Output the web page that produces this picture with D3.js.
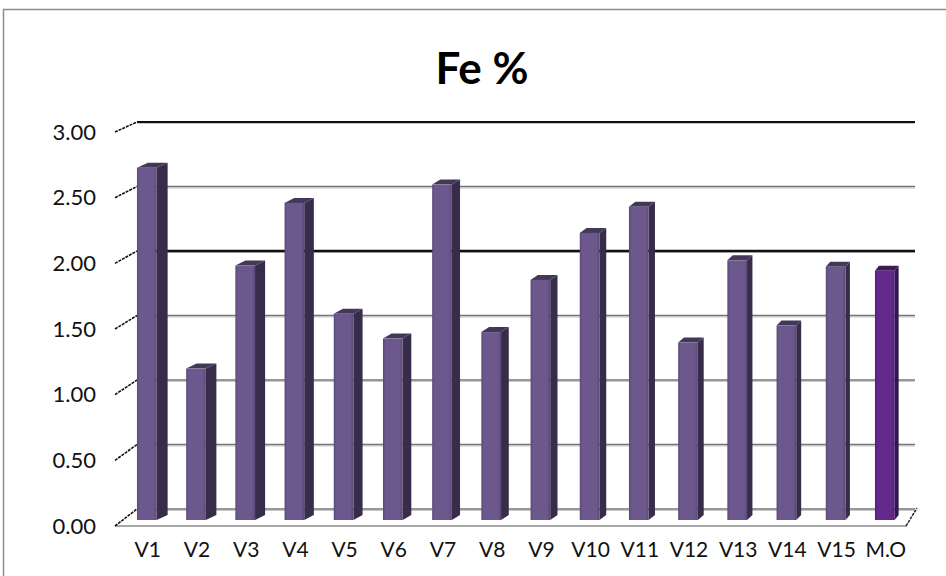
<!DOCTYPE html>
<html>
<head>
<meta charset="utf-8">
<script src="https://cdn.jsdelivr.net/npm/d3@7/dist/d3.min.js"></script>
<style>
  html, body { margin: 0; padding: 0; background: #fff; }
  svg { display: block; font-family: Lato, "Open Sans", sans-serif; }
</style>
</head>
<body>
<svg id="chart" width="946" height="576"></svg>
<script>
// Iron content per sample
const categories = ["V1","V2","V3","V4","V5","V6","V7","V8","V9","V10","V11","V12","V13","V14","V15","M.O"];
const feValues   = [2.70, 1.16, 1.95, 2.43, 1.58, 1.39, 2.57, 1.44, 1.84, 2.20, 2.40, 1.36, 1.99, 1.49, 1.94, 1.91];
const tickValues = [0, 0.5, 1, 1.5, 2, 2.5, 3];
const tickLabels = ["0.00","0.50","1.00","1.50","2.00","2.50","3.00"];
const titleText  = "Fe %";

const svg = d3.select("#chart");

// Outer chart frame
svg.append("rect")
  .attr("x", 3.5).attr("y", 9.5)
  .attr("width", 960).attr("height", 600)
  .attr("fill", "#fff").attr("stroke", "#8c8c8c").attr("stroke-width", 1.5);

// Three vertical scales: back wall, bar front plane, floor front edge
const yBack = d3.scaleLinear().domain([0, 3]).range([509, 122]);
const yBar  = d3.scaleLinear().domain([0, 3]).range([520, 128.5]);
const yEdge = d3.scaleLinear().domain([0, 3]).range([526, 132]);

const x = d3.scaleBand()
  .domain(categories)
  .range([122.2, 909.4])
  .paddingInner(0.6)
  .paddingOuter(0.3);

const wallLeft = 137, wallRight = 915;
const floorLeft = 115, floorRight = 906;

// Depth of each bar shrinks toward the right (perspective)
const depthX = d3.scaleLinear().domain([x(categories[0]), x(categories[categories.length - 1])]).range([11, 4]);
const depthY = 5;

// Back wall gridlines
const g = svg.append("g");
tickValues.forEach(v => {
  const strong = (v === 3 || v === 2);
  // soft shadow under each line
  g.append("line")
    .attr("x1", wallLeft).attr("x2", wallRight)
    .attr("y1", yBack(v) + 1.5).attr("y2", yBack(v) + 1.5)
    .attr("stroke", "#c8c8c8").attr("stroke-width", 1.2);
  g.append("line")
    .attr("x1", wallLeft).attr("x2", wallRight)
    .attr("y1", yBack(v)).attr("y2", yBack(v))
    .attr("stroke", strong ? "#111" : "#747474")
    .attr("stroke-width", v === 2 ? 2.6 : (v === 3 ? 1.8 : 1.4));
});

// Floor outline
g.append("path")
  .attr("d", `M${floorLeft},${yEdge(0)} L${floorRight},${yEdge(0)}`)
  .attr("stroke", "#8a8a8a").attr("stroke-width", 1.6).attr("fill", "none");
g.append("line")
  .attr("x1", floorRight).attr("y1", yEdge(0))
  .attr("x2", wallRight + 2).attr("y2", yBack(0) - 1)
  .attr("stroke", "#222").attr("stroke-width", 1.5).attr("stroke-dasharray", "3,1");

// Left-side depth ticks
tickValues.forEach(v => {
  g.append("line")
    .attr("x1", floorLeft).attr("y1", yEdge(v))
    .attr("x2", wallLeft).attr("y2", yBack(v))
    .attr("stroke", "#111").attr("stroke-width", 1.6).attr("stroke-dasharray", "3,1");
});

// Tick labels
svg.append("g").selectAll("text")
  .data(tickValues)
  .join("text")
  .attr("x", 96)
  .attr("y", v => yEdge(v) - 1)
  .attr("text-anchor", "end")
  .attr("dominant-baseline", "central")
  .attr("font-size", 22)
  .attr("fill", "#111")
  .text((v, i) => tickLabels[i]);

// Front-face gradients
const defs = svg.append("defs");
function faceGradient(id, mid, edge) {
  const gr = defs.append("linearGradient").attr("id", id).attr("x1", 0).attr("x2", 1).attr("y1", 0).attr("y2", 0);
  gr.append("stop").attr("offset", "0%").attr("stop-color", edge);
  gr.append("stop").attr("offset", "12%").attr("stop-color", mid);
  gr.append("stop").attr("offset", "85%").attr("stop-color", mid);
  gr.append("stop").attr("offset", "100%").attr("stop-color", edge);
}
faceGradient("frontMain", "#6c588c", "#5a4877");
faceGradient("frontMO", "#62288a", "#521f75");

const colors = {
  main: { front: "url(#frontMain)", side: "#372c49", top: "#44385a" },
  mo:   { front: "url(#frontMO)",   side: "#33164b", top: "#3e1c5a" }
};

const bars = svg.append("g");
categories.forEach((c, i) => {
  const v = feValues[i];
  const x0 = x(c), x1 = x0 + x.bandwidth();
  const yt = yBar(v), yb = yBar(0);
  const dx = depthX(x0), dy = depthY;
  const col = c === "M.O" ? colors.mo : colors.main;
  const bar = bars.append("g");
  // side face
  bar.append("path")
    .attr("d", `M${x1},${yt} L${x1 + dx},${yt - dy} L${x1 + dx},${yb - dy} L${x1},${yb} Z`)
    .attr("fill", col.side);
  // top face
  bar.append("path")
    .attr("d", `M${x0},${yt} L${x0 + dx},${yt - dy} L${x1 + dx},${yt - dy} L${x1},${yt} Z`)
    .attr("fill", col.top);
  // front face
  bar.append("rect")
    .attr("x", x0).attr("y", yt)
    .attr("width", x.bandwidth()).attr("height", yb - yt)
    .attr("fill", col.front);
});

// Category labels
svg.append("g").selectAll("text")
  .data(categories)
  .join("text")
  .attr("x", c => x(c) + x.bandwidth() / 2 + 1)
  .attr("y", 548)
  .attr("text-anchor", "middle")
  .attr("dominant-baseline", "central")
  .attr("font-size", 21)
  .attr("fill", "#111")
  .text(c => c);

// Title
svg.append("text")
  .attr("x", 482)
  .attr("y", 84)
  .attr("text-anchor", "middle")
  .attr("font-size", 44)
  .attr("font-weight", "bold")
  .attr("fill", "#000")
  .text(titleText);
</script>
</body>
</html>
